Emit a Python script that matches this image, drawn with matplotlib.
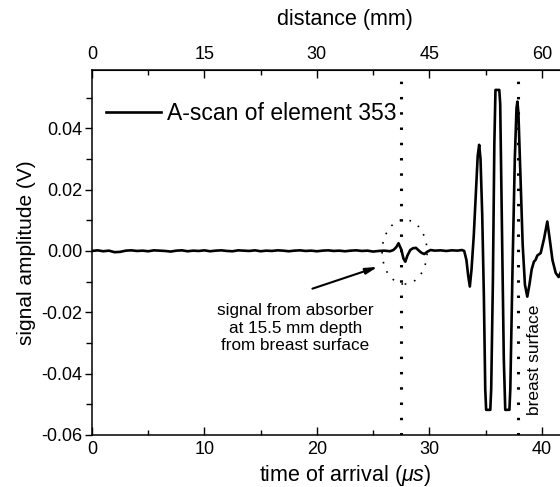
import matplotlib
matplotlib.use("Agg")
import matplotlib.pyplot as plt
from matplotlib.patches import Ellipse
from matplotlib.ticker import MultipleLocator

plt.rcParams['font.family'] = ['Liberation Sans', 'DejaVu Sans']
plt.rcParams['mathtext.fontset'] = 'custom'
plt.rcParams['mathtext.rm'] = 'Liberation Sans'
plt.rcParams['mathtext.it'] = 'Liberation Sans:italic'

# A-scan samples: time of arrival (us) and signal amplitude (V)
time_us = [
    0.0, 0.5, 1.0, 1.5, 2.0, 2.5, 3.0, 3.5, 4.0, 4.5, 5.0, 5.5, 6.0, 6.5,
    7.0, 7.5, 8.0, 8.5, 9.0, 9.5, 10.0, 10.5, 11.0, 11.5, 12.0, 12.5, 13.0,
    13.5, 14.0, 14.5, 15.0, 15.5, 16.0, 16.5, 17.0, 17.5, 18.0, 18.5, 19.0,
    19.5, 20.0, 20.5, 21.0, 21.5, 22.0, 22.5, 23.0, 23.5, 24.0, 24.5, 25.0,
    25.5, 26.0, 26.5, 26.8, 27.05, 27.26, 27.5, 27.7, 27.86, 28.05, 28.3,
    28.55, 28.81, 29.1, 29.3, 29.55, 29.8, 30.1, 30.5, 31.0, 31.5, 32.0,
    32.5, 32.9, 33.1, 33.3, 33.45, 33.6, 33.75, 33.95, 34.15, 34.3, 34.43,
    34.55, 34.7, 34.85, 34.97, 35.05, 35.42, 35.5, 35.65, 35.78, 35.88,
    36.22, 36.3, 36.45, 36.62, 36.75, 37.12, 37.2, 37.4, 37.6, 37.75, 37.83,
    37.92, 38.1, 38.3, 38.5, 38.71, 38.9, 39.1, 39.3, 39.45, 39.6, 39.9,
    40.2, 40.49, 40.7, 40.95, 41.24, 41.5, 41.8, 42.2, 42.6, 43.0, 43.5,
    44.0, 44.5, 45.0,
]
amplitude_v = [
    0.0, 0.0002, -0.0001, 0.0001, -0.0004, -0.0003, 0.0001, 0.0002, 0.0,
    0.0001, -0.0001, 0.0002, 0.0001, 0.0, -0.0002, 0.0001, 0.0002, -0.0001,
    0.0001, 0.0, 0.0002, -0.0001, 0.0001, 0.0002, 0.0, -0.0001, 0.0002,
    0.0001, 0.0, 0.0002, -0.0001, 0.0001, 0.0, 0.0002, 0.0001, -0.0001,
    0.0001, 0.0002, 0.0, 0.0001, -0.0001, 0.0001, 0.0002, 0.0, 0.0001,
    -0.0001, 0.0001, 0.0002, 0.0, 0.0001, -0.0002, 0.0, 0.0001, -0.0001,
    0.0003, 0.0012, 0.0025, 0.0005, -0.0025, -0.0035, -0.0015, 0.0003,
    0.0009, 0.001, 0.0, -0.0006, -0.001, -0.0003, 0.0003, 0.0001, 0.0002,
    0.0, 0.0002, 0.0001, 0.0003, 0.0, -0.003, -0.008, -0.0116, -0.006,
    0.005, 0.02, 0.031, 0.0346, 0.03, 0.012, -0.015, -0.045, -0.0518,
    -0.0518, -0.045, -0.01, 0.035, 0.0525, 0.0525, 0.048, 0.01, -0.035,
    -0.0518, -0.0518, -0.045, -0.005, 0.03, 0.0465, 0.0487, 0.045, 0.025,
    0.002, -0.011, -0.0149, -0.011, -0.006, -0.0035, -0.0029, -0.0015,
    -0.0007, 0.004, 0.0096, 0.004, -0.003, -0.0072, -0.0085, -0.006,
    -0.002, 0.001, 0.002, 0.001, 0.0, -0.0005, 0.0,
]

x_ticks = [0, 10, 20, 30, 40]
y_ticks = [-0.06, -0.04, -0.02, 0.00, 0.02, 0.04]
distance_ticks = [0, 15, 30, 45, 60]
mm_per_us = 1.5

absorber_time = 27.5
surface_time = 37.9

fig = plt.figure(figsize=(5.60, 4.87), dpi=100)
ax = fig.add_axes([0.1643, 0.1068, 0.9036, 0.7495])

line, = ax.plot(time_us, amplitude_v, color='black', lw=1.9,
                solid_joinstyle='round', label='A-scan of element 353')

ax.set_xlim(0, 45)
ax.set_ylim(-0.06, 0.059)
ax.set_xticks(x_ticks)
ax.xaxis.set_minor_locator(MultipleLocator(5))
ax.set_yticks(y_ticks)
ax.set_yticklabels([f'{v:.2f}' for v in y_ticks])
ax.yaxis.set_minor_locator(MultipleLocator(0.01))

ax.tick_params(axis='x', which='major', direction='in', length=6, width=1,
               labelsize=13, pad=4)
ax.tick_params(axis='x', which='minor', direction='in', length=3.5, width=1)
ax.tick_params(axis='y', which='major', direction='out', length=5, width=1,
               labelsize=13, pad=2)
ax.tick_params(axis='y', which='minor', direction='out', length=4, width=1)
for s in ax.spines.values():
    s.set_linewidth(1.1)

ax.set_xlabel(r'time of arrival ($\mu s$)', fontsize=15.5, labelpad=4)
ax.set_ylabel('signal amplitude (V)', fontsize=15, labelpad=4)

top = ax.secondary_xaxis('top', functions=(lambda t: t * mm_per_us,
                                           lambda d: d / mm_per_us))
top.set_xticks(distance_ticks)
top.xaxis.set_minor_locator(MultipleLocator(7.5))
top.tick_params(axis='x', which='major', direction='in', length=6, width=1,
                labelsize=13, pad=5)
top.tick_params(axis='x', which='minor', direction='in', length=3.5, width=1)
top.set_xlabel('distance (mm)', fontsize=15.5, labelpad=15)

dotted = (0, (0.8, 4.2))
ax.axvline(absorber_time, color='black', lw=2.2, ls=dotted)
ax.axvline(surface_time, color='black', lw=2.2, ls=dotted)

ax.add_patch(Ellipse((27.8, -0.0003), 4.0, 0.021, fill=False,
                     edgecolor='black', lw=1.2, ls=(0, (1, 5))))

ax.annotate('', xy=(25.4, -0.0052), xytext=(19.6, -0.0123),
            arrowprops=dict(arrowstyle='-|>,head_length=0.7,head_width=0.18',
                            color='black', lw=1.5, shrinkA=0, shrinkB=0))
ax.text(18.1, -0.0252, 'signal from absorber\nat 15.5 mm depth\nfrom breast surface',
        ha='center', va='center', fontsize=12.3, linespacing=1.2)

ax.text(39.35, -0.0535, 'breast surface', rotation=90, ha='center',
        va='bottom', fontsize=12.5)

ax.legend(handles=[line], loc='center left', bbox_to_anchor=(0.0277, 0.882),
          frameon=False, fontsize=16.5, handlelength=2.4, handletextpad=0.25,
          borderpad=0, borderaxespad=0)

fig.savefig('out.png', dpi=100)
